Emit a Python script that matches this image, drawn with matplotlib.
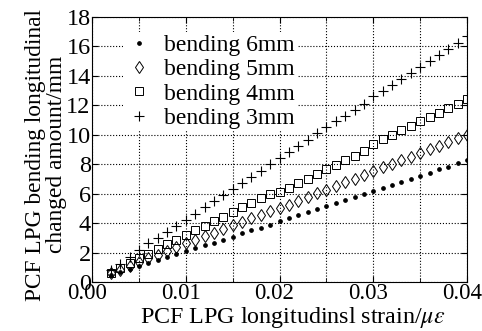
import matplotlib.pyplot as plt
import matplotlib.transforms as mtransforms
from matplotlib.ticker import MultipleLocator

plt.rcParams['font.family'] = ['Liberation Serif', 'DejaVu Serif']
plt.rcParams['mathtext.fontset'] = 'stix'

# strain (x) values
strain = [0.002, 0.003, 0.004, 0.005, 0.006, 0.007, 0.008, 0.009, 0.010,
          0.011, 0.012, 0.013, 0.014, 0.015, 0.016, 0.017, 0.018, 0.019, 0.020,
          0.021, 0.022, 0.023, 0.024, 0.025, 0.026, 0.027, 0.028, 0.029, 0.030,
          0.031, 0.032, 0.033, 0.034, 0.035, 0.036, 0.037, 0.038, 0.039, 0.040]

bend_6mm = [0.45, 0.68, 0.88, 1.08, 1.28, 1.48, 1.68, 1.88, 2.08,
            2.28, 2.48, 2.68, 2.88, 3.08, 3.30, 3.50, 3.70, 3.90, 4.12,
            4.32, 4.52, 4.72, 4.94, 5.14, 5.34, 5.56, 5.76, 5.96, 6.18,
            6.38, 6.60, 6.80, 7.00, 7.22, 7.42, 7.64, 7.84, 8.06, 8.28]
bend_5mm = [0.58, 0.84, 1.10, 1.36, 1.60, 1.86, 2.10, 2.38, 2.62,
            2.86, 3.10, 3.34, 3.60, 3.84, 4.08, 4.32, 4.56, 4.80, 5.02,
            5.26, 5.52, 5.78, 6.02, 6.28, 6.52, 6.78, 7.02, 7.28, 7.54,
            7.78, 8.04, 8.28, 8.52, 8.78, 9.02, 9.26, 9.52, 9.76, 10.0]
bend_4mm = [0.62, 0.95, 1.28, 1.60, 1.92, 2.25, 2.56, 2.88, 3.20,
            3.52, 3.82, 4.12, 4.44, 4.76, 5.06, 5.38, 5.68, 5.98, 6.10,
            6.40, 6.72, 7.02, 7.32, 7.64, 7.96, 8.26, 8.58, 8.90, 9.40,
            9.70, 10.0, 10.3, 10.6, 10.9, 11.2, 11.5, 11.8, 12.1, 12.4]
bend_3mm = [0.80, 1.25, 1.72, 2.20, 2.62, 3.02, 3.42, 3.82, 4.22,
            4.64, 5.06, 5.48, 5.90, 6.32, 6.72, 7.14, 7.56, 7.98, 8.40,
            8.82, 9.24, 9.66, 10.1, 10.5, 10.9, 11.3, 11.7, 12.1, 12.6,
            13.0, 13.4, 13.8, 14.2, 14.6, 15.0, 15.4, 15.8, 16.2, 16.7]

x_ticks = [0.00, 0.01, 0.02, 0.03, 0.04]
x_tick_labels = ['0.00', '0.01', '0.02', '0.03', '0.04']

fig = plt.figure(figsize=(4.82, 3.31), dpi=100)
ax = fig.add_axes([0.191, 0.148, 0.778, 0.801])

ax.plot(strain, bend_6mm, ls='none', marker='o', ms=2.4, color='black',
        label='bending 6mm')
ax.plot(strain, bend_5mm, ls='none', marker='d', ms=6, mfc='none',
        mec='black', mew=0.7, label='bending 5mm')
ax.plot(strain, bend_4mm, ls='none', marker='s', ms=5.5, mfc='none',
        mec='black', mew=0.7, label='bending 4mm')
ax.plot(strain, bend_3mm, ls='none', marker='+', ms=7, color='black',
        mew=0.8, label='bending 3mm')

ax.set_xlim(0, 0.04)
ax.set_ylim(0, 18)
ax.xaxis.set_minor_locator(MultipleLocator(0.005))
ax.yaxis.set_major_locator(MultipleLocator(2))
ax.set_xticks(x_ticks)
ax.set_xticklabels(x_tick_labels)
ax.tick_params(which='both', direction='in', top=True, right=True, pad=1)
ax.tick_params(axis='y', labelsize=17.5)
ax.tick_params(axis='x', labelsize=16.5)
ax.tick_params(which='major', length=4)
ax.tick_params(which='minor', length=3)
ax.grid(True, which='both', ls=':', color='black', lw=0.8)

# nudge x tick labels a little to the left, as in the original
shift = mtransforms.ScaledTranslation(-5 / 100, 0, fig.dpi_scale_trans)
for lbl in ax.get_xticklabels():
    lbl.set_transform(lbl.get_transform() + shift)

ax.set_xlabel('PCF LPG longitudinsl strain/$\\mu\\varepsilon$', fontsize=17.3)
ax.xaxis.set_label_coords(0.536, -0.088)
ax.set_ylabel('PCF LPG bending longitudinal\nchanged amount/mm', fontsize=16.8,
              linespacing=1.0)
ax.yaxis.set_label_coords(-0.067, 0.48)

leg = ax.legend(loc='upper left', fontsize=17, frameon=True, framealpha=1,
                edgecolor='none', borderaxespad=0.3, handletextpad=0.45,
                labelspacing=0.12, handlelength=1.2, borderpad=0.1,
                bbox_to_anchor=(0.063, 0.97))
leg.get_frame().set_linewidth(0)

fig.savefig('out.png', dpi=100)
